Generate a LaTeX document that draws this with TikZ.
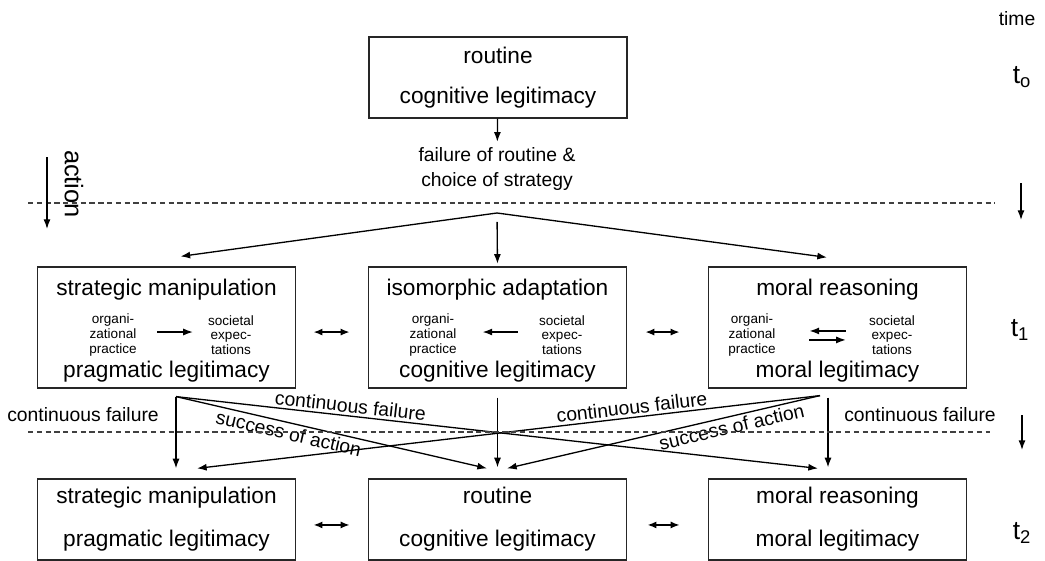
\documentclass[tikz,border=0pt]{standalone}
\usepackage{fontspec}
\setmainfont{Liberation Sans}
\usetikzlibrary{calc,arrows.meta}
\tikzset{my arrow/.style={
  black,
  line width=0.75pt,
  -{Latex[length=5.5pt,width=4pt]}
  }
}
\tikzset{two arrow/.style={
  black,
  line width=0.75pt,
  {Latex[length=5pt,width=4pt]}-{Latex[length=5pt,width=4pt]}
  }
}
\tikzset{time line/.style={
  black!75,
  line width=0.6pt,
  dash pattern=on 3pt off 2pt
  }
}
\tikzset{lbl/.style={font=\fontsize{11}{13}\selectfont}}
\tikzset{small/.style={align=center,font=\fontsize{7.7}{8.3}\selectfont}}

\begin{document}
\begin{tikzpicture}[x=0.02cm,y=-0.02cm]
    \useasboundingbox (0,0) rectangle (1045,561);

    \node[draw,black!85,text=black,line width=0.7pt,minimum height=1.62cm,minimum width=5.16cm,align=center,font=\fontsize{12.9}{22.4}\selectfont] (R0) at (498,77.5) {routine\\cognitive legitimacy};

    \node[align=center,font=\fontsize{11}{13.7}\selectfont] (fail) at (497,169) {failure of routine \&\\choice of strategy};
    \draw[my arrow] (R0) -- (fail);

    \coordinate (fork) at (497,213);

    \foreach \x/\strat/\legit [count=\n] in {166.5/strategic manipulation/pragmatic legitimacy,497.5/isomorphic adaptation/cognitive legitimacy,837.5/moral reasoning/moral legitimacy}
    {
        \node[draw,black!85,line width=0.7pt,minimum height=2.42cm,minimum width=5.16cm] (S\n) at (\x,327.5) {};
        \node[anchor=base,font=\fontsize{12.9}{15}\selectfont] (S\n t) at (\x,295) {\strat};
        \node[anchor=base,font=\fontsize{12.9}{15}\selectfont] (S\n b) at (\x,377) {\legit};
    }

    \foreach \x/\strat/\legit [count=\n] in {166.5/strategic manipulation/pragmatic legitimacy,497.5/routine/cognitive legitimacy,837.5/moral reasoning/moral legitimacy}
        \node[draw,black!85,text=black,line width=0.7pt,minimum height=1.62cm,minimum width=5.16cm,align=center,font=\fontsize{12.9}{24.5}\selectfont] (R\n) at (\x,519.5) {\strat\\\legit};

    % practice and expectations inside the boxes
    \node[small] (P1) at (113,335) {organi-\\zational\\practice};
    \node[small] (E1) at (231,335) {societal\\expec-\\tations};
    \node[small] (P2) at (433,335) {organi-\\zational\\practice};
    \node[small] (E2) at (562,335) {societal\\expec-\\tations};
    \node[small] (P3) at (752,335) {organi-\\zational\\practice};
    \node[small] (E3) at (892,335) {societal\\expec-\\tations};

    \draw[my arrow,shorten <=8.3pt,shorten >=5.1pt] ([yshift=1.7pt]P1.east) -- ([yshift=1.7pt]E1.west);
    \draw[my arrow,shorten <=8.5pt,shorten >=11.2pt] ([yshift=1.7pt]E2.west) -- ([yshift=1.7pt]P2.east);
    \draw[my arrow,shorten <=9.7pt,shorten >=15.7pt] ([yshift=2.3pt]E3.west) -- ([yshift=2.3pt]P3.east);
    \draw[my arrow,shorten <=15.7pt,shorten >=9.7pt] ([yshift=-2.8pt]P3.east) -- ([yshift=-2.8pt]E3.west);

    \draw[two arrow,shorten <=10pt,shorten >=10.5pt] ([yshift=-2.6pt]S1.east) -- ([yshift=-2.6pt]S2.west);
    \draw[two arrow,shorten <=10.5pt,shorten >=16.2pt] ([yshift=-2.6pt]S2.east) -- ([yshift=-2.6pt]S3.west);
    \draw[two arrow,shorten <=10pt,shorten >=10.5pt] ([yshift=-3.1pt]R1.east) -- ([yshift=-3.1pt]R2.west);
    \draw[two arrow,shorten <=11.7pt,shorten >=16.2pt] ([yshift=-3.1pt]R2.east) -- ([yshift=-3.1pt]R3.west);

    \draw[my arrow] (fork) -- ($(S1.north)+(14,-10)$);
    \draw[my arrow] (fork) -- ($(S3.north)+(-10.5,-9)$);
    \draw[my arrow,shorten <=5pt,shorten >=1.5pt] (fork) -- (S2.north);

    \coordinate (out1) at ($(S1.south)+(9.5,8)$);
    \coordinate (out3) at ($(S3.south)+(-17.5,7)$);

    \draw[my arrow] (out1) -- ($(R1.north)+(9.5,-10)$);
    \draw[my arrow] (out1) -- node[lbl,sloped,below,inner sep=1.5pt,pos=0.37] (sa1) {success of action} ($(R2.north)+(-10.5,-10)$);
    \draw[my arrow] (out1) -- node[lbl,sloped,above,inner sep=1.5pt,pos=0.27] (cf13) {continuous failure} ($(R3.north)+(-19.5,-10)$);
    \draw[my arrow] (out3) -- node[lbl,sloped,above,inner sep=1.5pt,pos=0.30] (cf31) {continuous failure} ($(R1.north)+(30.5,-10)$);
    \draw[my arrow] (out3) -- node[lbl,sloped,below,inner sep=1.5pt,pos=0.29] (sa3) {success of action} ($(R2.north)+(9.5,-10)$);
    \draw[my arrow] ($(S2.south)+(0,9)$) -- ($(R2.north)+(0,-11)$);
    \draw[my arrow] ($(S3.south)+(-9.5,9)$) -- ($(R3.north)+(-9.5,-11)$);

    \node[lbl] (cf1) at (83,415) {continuous failure};
    \node[lbl] (cf3) at (920,415) {continuous failure};

    % time axis
    \draw[time line] (28,203) -- (995,203);
    \draw[time line] (28,432) -- (990,432);

    \node[lbl] (time) at (1017,19) {time};
    \node[font=\fontsize{15}{18}\selectfont] (T0) at (1022,77) {t\textsubscript{o}};
    \node[font=\fontsize{15}{18}\selectfont] (T1) at (1020,330) {t\textsubscript{1}};
    \node[font=\fontsize{15}{18}\selectfont] (T2) at (1022,533) {t\textsubscript{2}};
    \draw[my arrow] (1021,183) -- (1021,220);
    \draw[my arrow] (1022,415) -- (1022,450);

    \node[rotate=-90,font=\fontsize{14.5}{17}\selectfont] (act) at (74,184) {action};
    \draw[my arrow] (47,157) -- (47,229);

\end{tikzpicture}
\end{document}
